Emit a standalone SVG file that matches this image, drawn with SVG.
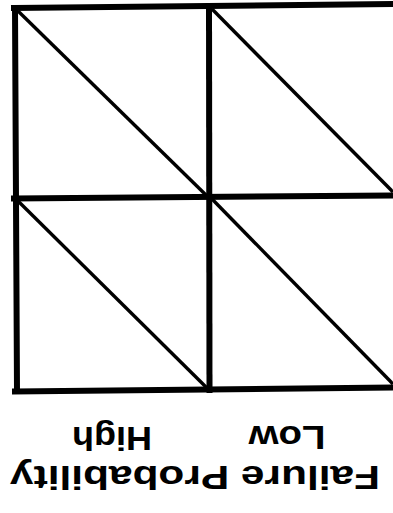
<svg xmlns="http://www.w3.org/2000/svg" width="393" height="513" viewBox="0 0 393 513">
  <style>
    .grid { stroke: #000; stroke-width: 6; stroke-linecap: square; fill: none; }
    .diag { stroke: #000; stroke-width: 3.4; fill: none; }
    .lbl { font-family: "Liberation Sans", Arial, sans-serif; font-weight: bold; font-size: 33px; fill: #000; text-anchor: middle; }
  </style>
  <rect width="393" height="513" fill="#fff"/>
  <g id="grid-lines">
    <line class="grid" x1="14" y1="8" x2="393" y2="4"/>
    <line class="grid" x1="14" y1="198.5" x2="393" y2="195.5"/>
    <line class="grid" x1="15" y1="391.5" x2="393" y2="387.5"/>
    <line class="grid" x1="15" y1="8" x2="17" y2="391"/>
    <line class="grid" x1="209" y1="6" x2="209.5" y2="390"/>
  </g>
  <g id="cell-top-left">
    <line class="diag" x1="18" y1="11" x2="207" y2="196"/>
  </g>
  <g id="cell-top-right">
    <line class="diag" x1="212" y1="9" x2="393" y2="192"/>
  </g>
  <g id="cell-bottom-left">
    <line class="diag" x1="18" y1="201" x2="207" y2="388"/>
  </g>
  <g id="cell-bottom-right">
    <line class="diag" x1="212" y1="199" x2="393" y2="384"/>
  </g>
  <g id="labels">
    <text class="lbl" x="112" y="427" textLength="80" lengthAdjust="spacingAndGlyphs" transform="rotate(180 112 427)">High</text>
    <text class="lbl" x="287" y="426" textLength="77" lengthAdjust="spacingAndGlyphs" transform="rotate(180 287 426)">Low</text>
    <text class="lbl" x="195" y="466" textLength="370" lengthAdjust="spacingAndGlyphs" transform="rotate(180 195 466)">Failure Probability</text>
  </g>
</svg>
